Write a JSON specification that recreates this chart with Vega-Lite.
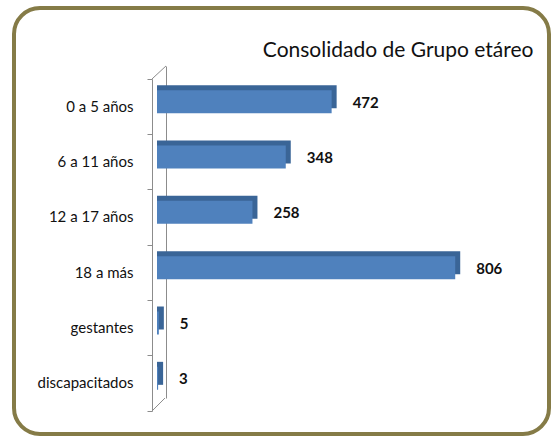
{
  "$schema": "https://vega.github.io/schema/vega-lite/v6.json",
  "width": 535,
  "height": 426,
  "autosize": "none",
  "padding": {"left": 14, "top": 8, "right": 11, "bottom": 3},
  "background": "white",
  "data": {
    "values": [
      {"grupo": "0 a 5 años", "n": 472},
      {"grupo": "6 a 11 años", "n": 348},
      {"grupo": "12 a 17 años", "n": 258},
      {"grupo": "18 a más", "n": 806},
      {"grupo": "gestantes", "n": 5},
      {"grupo": "discapacitados", "n": 3}
    ]
  },
  "resolve": {"scale": {"y": "independent"}, "axis": {"y": "independent"}},
  "layer": [
    {
      "mark": {"type": "bar", "opacity": 0},
      "encoding": {
        "y": {
          "field": "grupo", "type": "nominal", "sort": null,
          "scale": {"range": [58, 390], "paddingInner": 0, "paddingOuter": 0},
          "axis": {"orient": "left", "offset": -152, "labels": false, "ticks": false, "title": null, "domainColor": "#8c8c8c", "domainWidth": 1}
        },
        "x": {
          "field": "n", "type": "quantitative",
          "scale": {"domain": [0, 1000], "range": [143, 513], "nice": false},
          "axis": {
            "orient": "top", "domain": false, "ticks": false, "labels": false, "grid": false,
            "title": "Consolidado de Grupo etáreo",
            "titleX": 519, "titleY": 48, "titleAlign": "right", "titleBaseline": "alphabetic",
            "titleFont": "Lato, sans-serif", "titleFontSize": 21, "titleFontWeight": "normal", "titleColor": "#111111"
          }
        }
      }
    },
    {
      "layer": [
        {
          "data": {"values": [{"top": "0 a 5 años", "bottom": "discapacitados"}]},
          "mark": {"type": "rule", "color": "#8c8c8c", "strokeWidth": 1, "yOffset": -27.7, "y2Offset": -40.7},
          "encoding": {
            "x": {"datum": -13.5, "type": "quantitative"},
            "x2": {"datum": 24.3},
            "y": {"field": "top", "type": "nominal", "sort": null},
            "y2": {"field": "top"}
          }
        },
        {
          "data": {"values": [{"top": "0 a 5 años", "bottom": "discapacitados"}]},
          "mark": {"type": "rule", "color": "#8c8c8c", "strokeWidth": 1, "yOffset": 27.7, "y2Offset": 14.7},
          "encoding": {
            "x": {"datum": -13.5, "type": "quantitative"},
            "x2": {"datum": 21.6},
            "y": {"field": "bottom", "type": "nominal", "sort": null},
            "y2": {"field": "bottom"}
          }
        },
        {
          "mark": {"type": "bar", "height": 23, "xOffset": 5, "x2Offset": 0, "yOffset": -10, "color": "#3a6597"},
          "encoding": {
            "y": {"field": "grupo", "type": "nominal", "sort": null},
            "x": {"field": "n", "type": "quantitative"},
            "x2": {"datum": 0}
          }
        },
        {
          "mark": {"type": "bar", "height": 23, "yOffset": -5, "color": "#4f81bd"},
          "encoding": {
            "y": {"field": "grupo", "type": "nominal", "sort": null},
            "x": {"field": "n", "type": "quantitative"}
          }
        },
        {
          "mark": {"type": "text", "align": "left", "baseline": "middle", "dx": 21, "yOffset": -4, "font": "Lato, sans-serif", "fontSize": 15, "fontWeight": "bold", "color": "#111111"},
          "encoding": {
            "y": {"field": "grupo", "type": "nominal", "sort": null},
            "x": {"field": "n", "type": "quantitative"},
            "text": {"field": "n", "type": "quantitative"}
          }
        }
      ],
      "encoding": {
        "y": {
          "field": "grupo", "type": "nominal", "sort": null,
          "scale": {"domain": ["0 a 5 años", "6 a 11 años", "12 a 17 años", "18 a más", "gestantes", "discapacitados"], "range": [71, 403], "paddingInner": 0, "paddingOuter": 0},
          "axis": {"orient": "left", "offset": -138, "title": null, "bandPosition": 1, "tickExtra": true, "tickSize": 5, "tickColor": "#8c8c8c", "domainColor": "#8c8c8c", "labelPadding": 14, "labelFontSize": 15, "labelFont": "Lato, sans-serif", "labelColor": "#111111"}
        }
      }
    }
  ],
  "config": {
    "view": {"stroke": "#857b47", "strokeWidth": 4, "cornerRadius": 26, "fill": "white"}
  }
}
